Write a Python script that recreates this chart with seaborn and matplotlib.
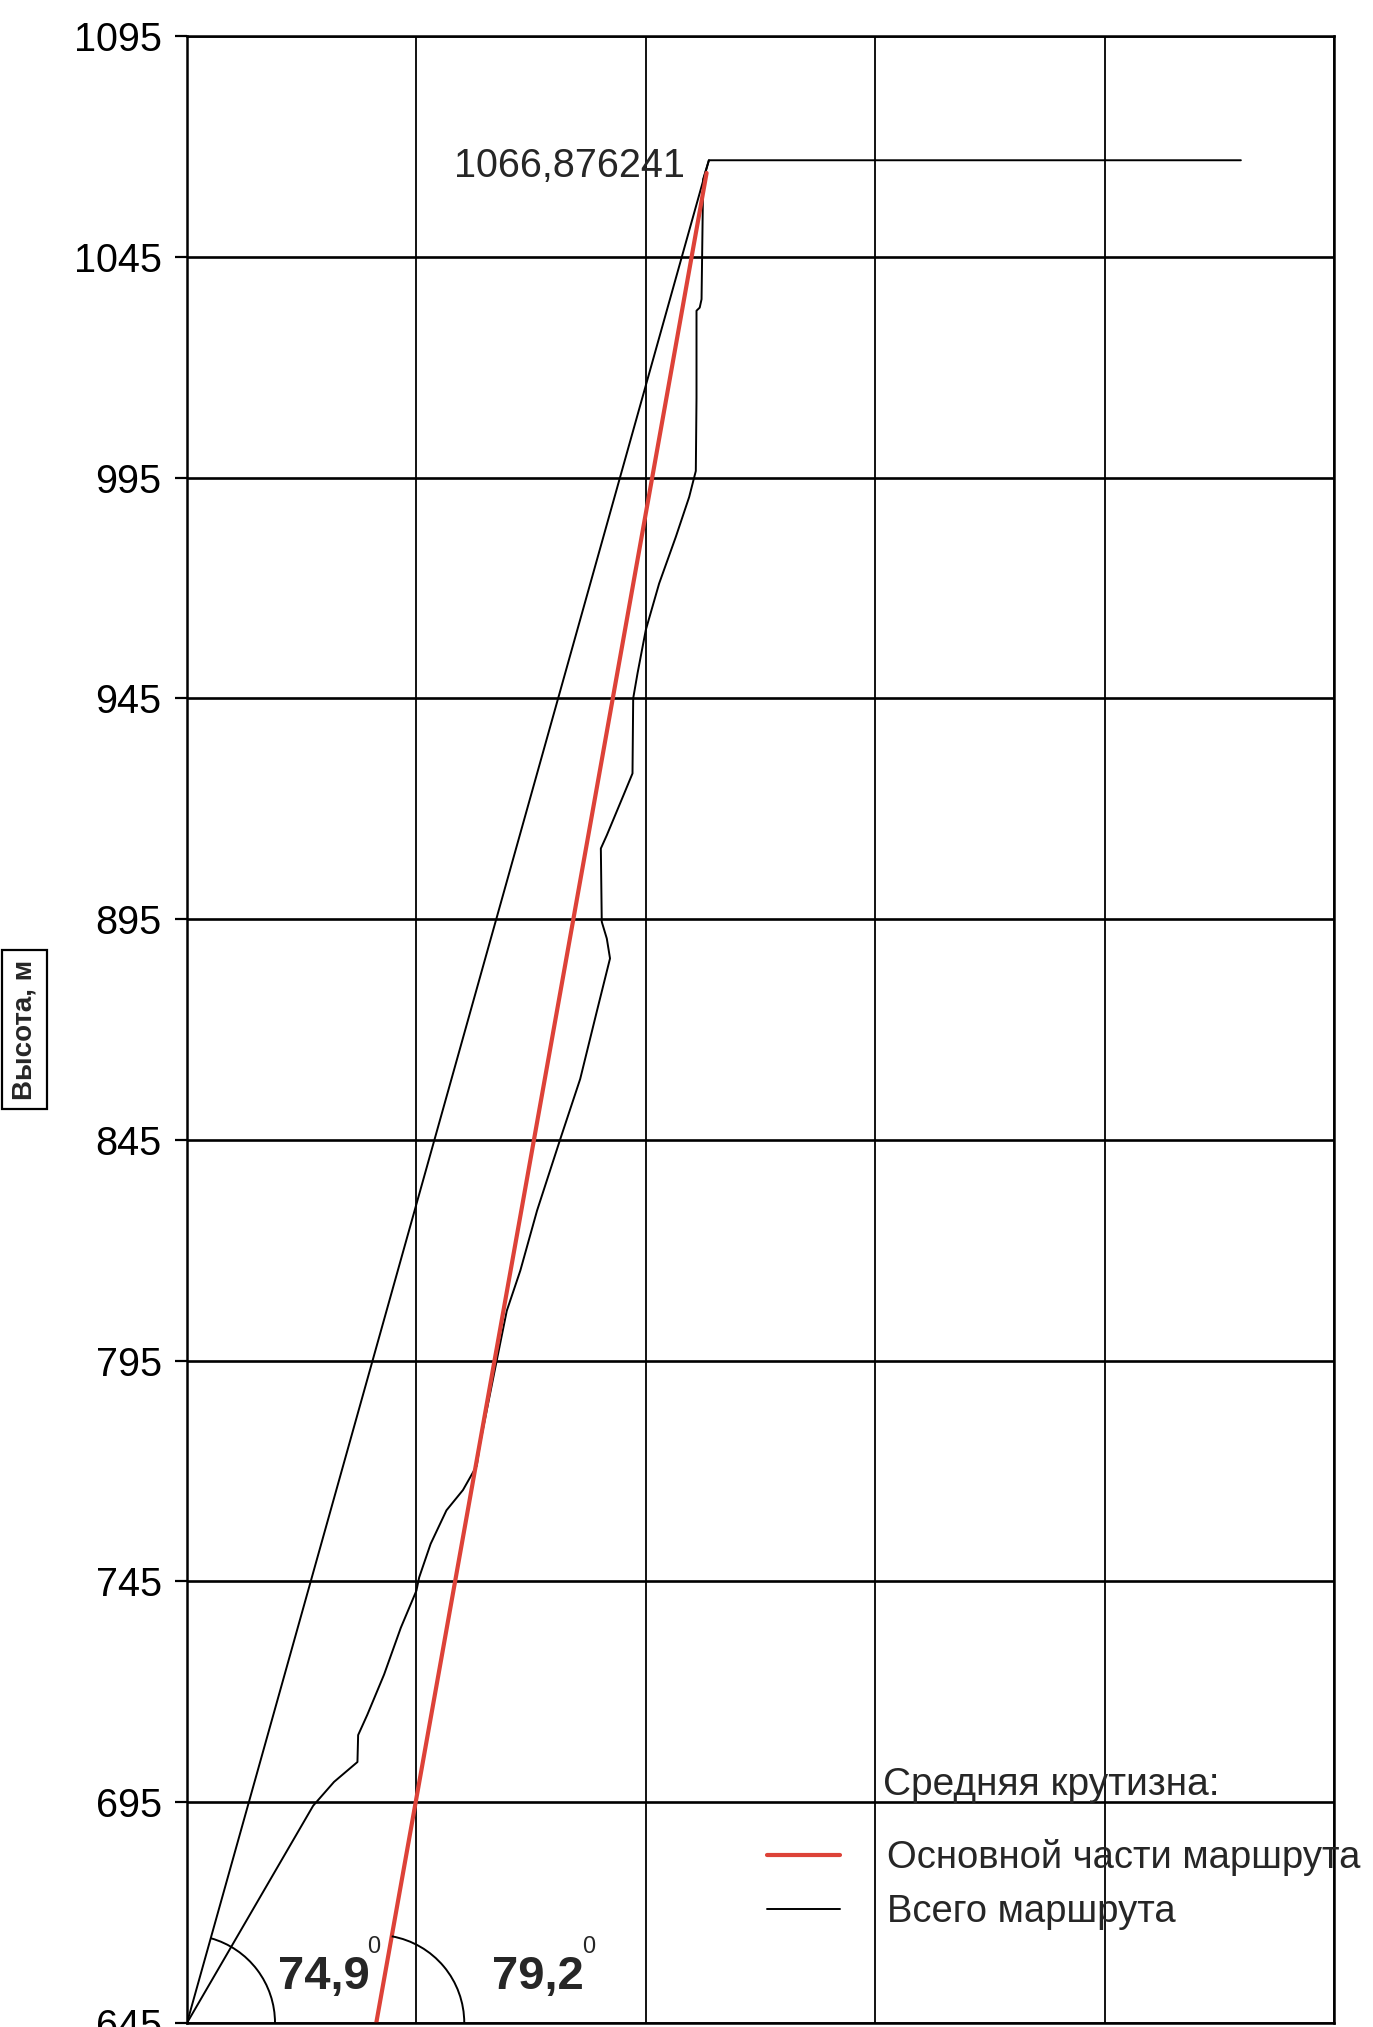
import numpy as np
import matplotlib
matplotlib.use("Agg")
import matplotlib.pyplot as plt
import seaborn as sns
from matplotlib.patches import Arc
from matplotlib.transforms import ScaledTranslation

# -----------------------------
# Data
# -----------------------------
# route profile: horizontal distance (arbitrary units, 100 per grid column) and height, m
profile_x = [0, 55.0, 64.1, 74.3, 74.6, 78.6, 85.9, 93.2, 100.0, 101.2, 106.2, 113.1,
             120.3, 126.3, 127.7, 135.0, 139.4, 145.3, 152.6, 162.6, 171.4, 178.6,
             184.4, 183.0, 180.8, 180.4, 183.0, 190.3, 194.2, 194.5, 196.4, 200.0,
             205.8, 213.1, 218.9, 221.8, 222.1, 222.1, 223.5, 224.3, 225.0, 227.5, 459.4]
profile_h = [645, 694.2, 699.6, 704.1, 710.2, 714.8, 723.9, 734.5, 742.9, 745.9, 753.5, 761.1,
             765.7, 771.2, 776.1, 795.0, 806.3, 815.4, 829.0, 845.0, 858.8, 874.0,
             886.1, 890.6, 894.4, 911.0, 914.0, 923.1, 928.0, 945.0, 950.7, 960.5,
             971.0, 981.6, 990.6, 996.5, 1013.0, 1032.8, 1033.5, 1035.4, 1062.6, 1066.876241, 1066.876241]

# average steepness of the whole route
total_x = [0, 227.5]
total_h = [645, 1066.876241]

# average steepness of the main part of the route
main_x = [82.5, 226.5]
main_h = [645, 1064]

top_height = 1066.876241
angle_labels = ["74,9", "79,2"]
y_ticks = list(range(645, 1096, 50))
x_grid = [0, 100, 200, 300, 400, 500]

legend_title = "Средняя крутизна:"
main_label = "Основной части маршрута"
total_label = "Всего маршрута"

# -----------------------------
# Style
# -----------------------------
sns.set_style("white")
plt.rcParams["font.family"] = ["Liberation Sans", "DejaVu Sans"]
hand_font = ["Liberation Sans Narrow", "Liberation Sans", "DejaVu Sans"]

fig = plt.figure(figsize=(13.73, 20.27), dpi=100)
ax = fig.add_axes([0.1362, 0.0020, 0.8354, 0.9802])

# -----------------------------
# Lines
# -----------------------------
sns.lineplot(x=profile_x, y=profile_h, sort=False, estimator=None,
             color="black", lw=1.4, ax=ax)
sns.lineplot(x=total_x, y=total_h, sort=False, estimator=None,
             color="black", lw=1.4, ax=ax, label=total_label)
sns.lineplot(x=main_x, y=main_h, sort=False, estimator=None,
             color="#dd4238", lw=3.0, ax=ax, label=main_label)

ax.set_xlim(x_grid[0], x_grid[-1])
ax.set_ylim(y_ticks[0], y_ticks[-1])

# -----------------------------
# Axes, grid, ticks
# -----------------------------
ax.set_xticks(x_grid)
ax.set_yticks(y_ticks)
ax.tick_params(axis="x", length=0, labelbottom=False)
ax.tick_params(axis="y", left=True, direction="out", length=8.6, width=1.6,
               pad=9.6, labelsize=28.5, colors="black")
ax.xaxis.grid(True, color="black", lw=1.3)
ax.yaxis.grid(True, color="black", lw=1.9)
ax.set_axisbelow(True)
for side in ax.spines.values():
    side.set_color("black")
    side.set_linewidth(1.8)
ax.set_xlabel("")

ax.set_ylabel("Высота, м", fontsize=20, fontweight="bold",
              bbox=dict(boxstyle="square,pad=0.35", fc="white", ec="black", lw=1.6))
ax.yaxis.set_label_coords(-0.1415, 0.5)
ax.yaxis.label.set_verticalalignment("center")

# -----------------------------
# Annotations
# -----------------------------
ax.annotate(f"{top_height:.6f}".replace(".", ","), xy=(total_x[-1], top_height),
            xytext=(-17, -4), textcoords="offset points", ha="right", va="center",
            fontsize=28.5)

# angle arcs, drawn in screen space around the lines' start points
def screen_angle(x0, y0, x1, y1):
    p0 = ax.transData.transform((x0, y0))
    p1 = ax.transData.transform((x1, y1))
    return np.degrees(np.arctan2(p1[1] - p0[1], p1[0] - p0[0]))

for (xs, hs), lab, dx in zip([(total_x, total_h), (main_x, main_h)], angle_labels, [98.6, 116.6]):
    ang = screen_angle(xs[0], hs[0], xs[-1], hs[-1])
    arc = Arc((0, 0), 1.76, 1.76, theta1=0, theta2=ang, color="black", lw=1.4,
              transform=fig.dpi_scale_trans + ScaledTranslation(xs[0], hs[0], ax.transData))
    fig.add_artist(arc)
    ax.annotate(lab, xy=(xs[0], hs[0]), xytext=(dx, 33), textcoords="offset points",
                ha="center", va="center", fontsize=34, fontweight="bold",
                annotation_clip=False)
    ax.annotate("0", xy=(xs[0], hs[0]), xytext=(dx + 36, 55), textcoords="offset points",
                ha="center", va="center", fontsize=17, annotation_clip=False)

# -----------------------------
# Legend
# -----------------------------
handles, labels = ax.get_legend_handles_labels()
order = [labels.index(main_label), labels.index(total_label)]
ax.legend([handles[i] for i in order], [labels[i] for i in order],
          loc="upper left", bbox_to_anchor=(0.5057, 0.0925), frameon=False,
          borderpad=0, borderaxespad=0, handlelength=1.9, handletextpad=1.25,
          labelspacing=0.48, prop={"family": hand_font, "size": 27.5})
ax.text(0.6068, 0.1198, legend_title, transform=ax.transAxes, ha="left", va="center",
        fontsize=28, family=hand_font)

fig.savefig("out.png", dpi=100, facecolor="white")
